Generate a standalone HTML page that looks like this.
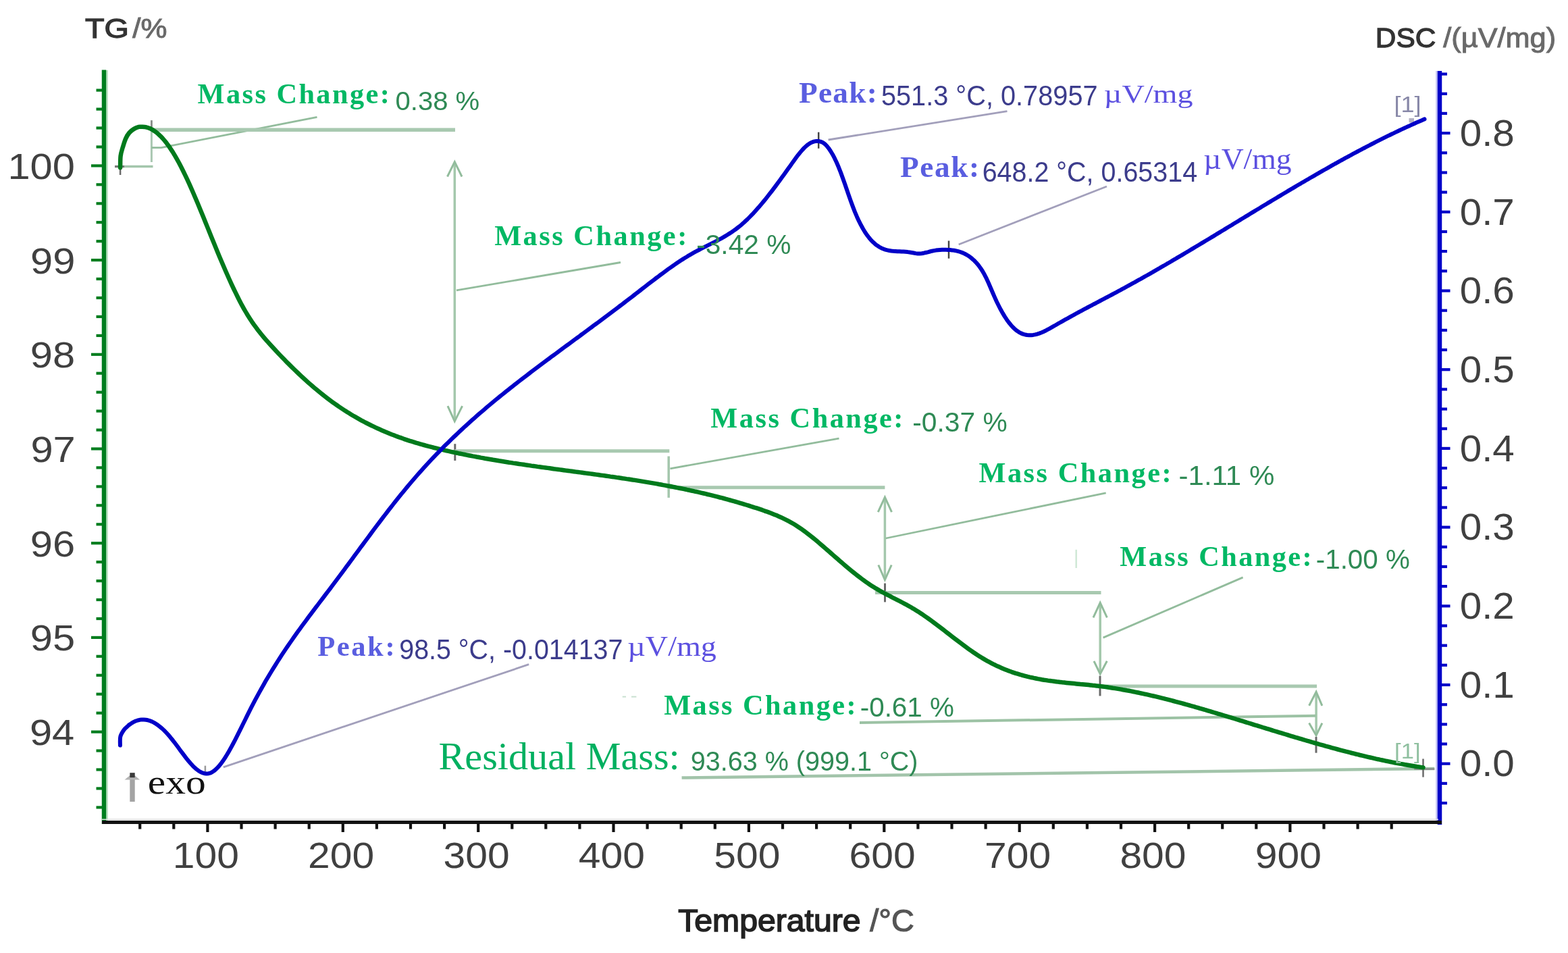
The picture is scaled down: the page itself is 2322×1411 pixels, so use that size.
<!DOCTYPE html>
<html><head><meta charset="utf-8"><title>TG / DSC</title>
<style>html,body{margin:0;padding:0;background:#fff;} svg{display:block;}</style></head>
<body><svg width="2322" height="1411" viewBox="0 0 2322 1411">
<rect width="2322" height="1411" fill="#fff"/>
<line x1="158.5" y1="104.0" x2="158.5" y2="1219.0" stroke="#b4e0bc" stroke-width="2.5" />
<line x1="154.0" y1="103.5" x2="154.0" y2="1220.0" stroke="#007d1e" stroke-width="6.5" />
<line x1="2127.5" y1="105.0" x2="2127.5" y2="1219.0" stroke="#c0c0f4" stroke-width="2.5" />
<line x1="2132.0" y1="105.0" x2="2132.0" y2="1221.0" stroke="#0000c8" stroke-width="6.5" />
<line x1="151.0" y1="1213.2" x2="2130.0" y2="1213.2" stroke="#d8d8d8" stroke-width="1.5" />
<line x1="151.0" y1="1217.6" x2="2135.0" y2="1217.6" stroke="#111" stroke-width="5" />
<line x1="142.5" y1="133.6" x2="154.0" y2="133.6" stroke="#007d1e" stroke-width="4.2" />
<line x1="142.5" y1="161.6" x2="154.0" y2="161.6" stroke="#007d1e" stroke-width="4.2" />
<line x1="142.5" y1="189.5" x2="154.0" y2="189.5" stroke="#007d1e" stroke-width="4.2" />
<line x1="142.5" y1="217.5" x2="154.0" y2="217.5" stroke="#007d1e" stroke-width="4.2" />
<line x1="135.0" y1="245.4" x2="154.0" y2="245.4" stroke="#007d1e" stroke-width="4.2" />
<line x1="142.5" y1="273.3" x2="154.0" y2="273.3" stroke="#007d1e" stroke-width="4.2" />
<line x1="142.5" y1="301.3" x2="154.0" y2="301.3" stroke="#007d1e" stroke-width="4.2" />
<line x1="142.5" y1="329.2" x2="154.0" y2="329.2" stroke="#007d1e" stroke-width="4.2" />
<line x1="142.5" y1="357.2" x2="154.0" y2="357.2" stroke="#007d1e" stroke-width="4.2" />
<line x1="135.0" y1="385.1" x2="154.0" y2="385.1" stroke="#007d1e" stroke-width="4.2" />
<line x1="142.5" y1="413.0" x2="154.0" y2="413.0" stroke="#007d1e" stroke-width="4.2" />
<line x1="142.5" y1="441.0" x2="154.0" y2="441.0" stroke="#007d1e" stroke-width="4.2" />
<line x1="142.5" y1="468.9" x2="154.0" y2="468.9" stroke="#007d1e" stroke-width="4.2" />
<line x1="142.5" y1="496.9" x2="154.0" y2="496.9" stroke="#007d1e" stroke-width="4.2" />
<line x1="135.0" y1="524.8" x2="154.0" y2="524.8" stroke="#007d1e" stroke-width="4.2" />
<line x1="142.5" y1="552.7" x2="154.0" y2="552.7" stroke="#007d1e" stroke-width="4.2" />
<line x1="142.5" y1="580.7" x2="154.0" y2="580.7" stroke="#007d1e" stroke-width="4.2" />
<line x1="142.5" y1="608.6" x2="154.0" y2="608.6" stroke="#007d1e" stroke-width="4.2" />
<line x1="142.5" y1="636.6" x2="154.0" y2="636.6" stroke="#007d1e" stroke-width="4.2" />
<line x1="135.0" y1="664.5" x2="154.0" y2="664.5" stroke="#007d1e" stroke-width="4.2" />
<line x1="142.5" y1="692.4" x2="154.0" y2="692.4" stroke="#007d1e" stroke-width="4.2" />
<line x1="142.5" y1="720.4" x2="154.0" y2="720.4" stroke="#007d1e" stroke-width="4.2" />
<line x1="142.5" y1="748.3" x2="154.0" y2="748.3" stroke="#007d1e" stroke-width="4.2" />
<line x1="142.5" y1="776.3" x2="154.0" y2="776.3" stroke="#007d1e" stroke-width="4.2" />
<line x1="135.0" y1="804.2" x2="154.0" y2="804.2" stroke="#007d1e" stroke-width="4.2" />
<line x1="142.5" y1="832.1" x2="154.0" y2="832.1" stroke="#007d1e" stroke-width="4.2" />
<line x1="142.5" y1="860.1" x2="154.0" y2="860.1" stroke="#007d1e" stroke-width="4.2" />
<line x1="142.5" y1="888.0" x2="154.0" y2="888.0" stroke="#007d1e" stroke-width="4.2" />
<line x1="142.5" y1="916.0" x2="154.0" y2="916.0" stroke="#007d1e" stroke-width="4.2" />
<line x1="135.0" y1="943.9" x2="154.0" y2="943.9" stroke="#007d1e" stroke-width="4.2" />
<line x1="142.5" y1="971.8" x2="154.0" y2="971.8" stroke="#007d1e" stroke-width="4.2" />
<line x1="142.5" y1="999.8" x2="154.0" y2="999.8" stroke="#007d1e" stroke-width="4.2" />
<line x1="142.5" y1="1027.7" x2="154.0" y2="1027.7" stroke="#007d1e" stroke-width="4.2" />
<line x1="142.5" y1="1055.7" x2="154.0" y2="1055.7" stroke="#007d1e" stroke-width="4.2" />
<line x1="135.0" y1="1083.6" x2="154.0" y2="1083.6" stroke="#007d1e" stroke-width="4.2" />
<line x1="142.5" y1="1111.5" x2="154.0" y2="1111.5" stroke="#007d1e" stroke-width="4.2" />
<line x1="142.5" y1="1139.5" x2="154.0" y2="1139.5" stroke="#007d1e" stroke-width="4.2" />
<line x1="142.5" y1="1167.4" x2="154.0" y2="1167.4" stroke="#007d1e" stroke-width="4.2" />
<line x1="142.5" y1="1195.4" x2="154.0" y2="1195.4" stroke="#007d1e" stroke-width="4.2" />
<line x1="2132.0" y1="1189.0" x2="2143.0" y2="1189.0" stroke="#0000c8" stroke-width="4.2" />
<line x1="2132.0" y1="1159.9" x2="2143.0" y2="1159.9" stroke="#0000c8" stroke-width="4.2" />
<line x1="2132.0" y1="1130.7" x2="2147.5" y2="1130.7" stroke="#0000c8" stroke-width="4.2" />
<line x1="2132.0" y1="1101.5" x2="2143.0" y2="1101.5" stroke="#0000c8" stroke-width="4.2" />
<line x1="2132.0" y1="1072.4" x2="2143.0" y2="1072.4" stroke="#0000c8" stroke-width="4.2" />
<line x1="2132.0" y1="1043.2" x2="2143.0" y2="1043.2" stroke="#0000c8" stroke-width="4.2" />
<line x1="2132.0" y1="1014.0" x2="2147.5" y2="1014.0" stroke="#0000c8" stroke-width="4.2" />
<line x1="2132.0" y1="984.8" x2="2143.0" y2="984.8" stroke="#0000c8" stroke-width="4.2" />
<line x1="2132.0" y1="955.7" x2="2143.0" y2="955.7" stroke="#0000c8" stroke-width="4.2" />
<line x1="2132.0" y1="926.5" x2="2143.0" y2="926.5" stroke="#0000c8" stroke-width="4.2" />
<line x1="2132.0" y1="897.3" x2="2147.5" y2="897.3" stroke="#0000c8" stroke-width="4.2" />
<line x1="2132.0" y1="868.1" x2="2143.0" y2="868.1" stroke="#0000c8" stroke-width="4.2" />
<line x1="2132.0" y1="839.0" x2="2143.0" y2="839.0" stroke="#0000c8" stroke-width="4.2" />
<line x1="2132.0" y1="809.8" x2="2143.0" y2="809.8" stroke="#0000c8" stroke-width="4.2" />
<line x1="2132.0" y1="780.6" x2="2147.5" y2="780.6" stroke="#0000c8" stroke-width="4.2" />
<line x1="2132.0" y1="751.4" x2="2143.0" y2="751.4" stroke="#0000c8" stroke-width="4.2" />
<line x1="2132.0" y1="722.2" x2="2143.0" y2="722.2" stroke="#0000c8" stroke-width="4.2" />
<line x1="2132.0" y1="693.1" x2="2143.0" y2="693.1" stroke="#0000c8" stroke-width="4.2" />
<line x1="2132.0" y1="663.9" x2="2147.5" y2="663.9" stroke="#0000c8" stroke-width="4.2" />
<line x1="2132.0" y1="634.7" x2="2143.0" y2="634.7" stroke="#0000c8" stroke-width="4.2" />
<line x1="2132.0" y1="605.6" x2="2143.0" y2="605.6" stroke="#0000c8" stroke-width="4.2" />
<line x1="2132.0" y1="576.4" x2="2143.0" y2="576.4" stroke="#0000c8" stroke-width="4.2" />
<line x1="2132.0" y1="547.2" x2="2147.5" y2="547.2" stroke="#0000c8" stroke-width="4.2" />
<line x1="2132.0" y1="518.0" x2="2143.0" y2="518.0" stroke="#0000c8" stroke-width="4.2" />
<line x1="2132.0" y1="488.9" x2="2143.0" y2="488.9" stroke="#0000c8" stroke-width="4.2" />
<line x1="2132.0" y1="459.7" x2="2143.0" y2="459.7" stroke="#0000c8" stroke-width="4.2" />
<line x1="2132.0" y1="430.5" x2="2147.5" y2="430.5" stroke="#0000c8" stroke-width="4.2" />
<line x1="2132.0" y1="401.3" x2="2143.0" y2="401.3" stroke="#0000c8" stroke-width="4.2" />
<line x1="2132.0" y1="372.1" x2="2143.0" y2="372.1" stroke="#0000c8" stroke-width="4.2" />
<line x1="2132.0" y1="343.0" x2="2143.0" y2="343.0" stroke="#0000c8" stroke-width="4.2" />
<line x1="2132.0" y1="313.8" x2="2147.5" y2="313.8" stroke="#0000c8" stroke-width="4.2" />
<line x1="2132.0" y1="284.6" x2="2143.0" y2="284.6" stroke="#0000c8" stroke-width="4.2" />
<line x1="2132.0" y1="255.5" x2="2143.0" y2="255.5" stroke="#0000c8" stroke-width="4.2" />
<line x1="2132.0" y1="226.3" x2="2143.0" y2="226.3" stroke="#0000c8" stroke-width="4.2" />
<line x1="2132.0" y1="197.1" x2="2147.5" y2="197.1" stroke="#0000c8" stroke-width="4.2" />
<line x1="2132.0" y1="167.9" x2="2143.0" y2="167.9" stroke="#0000c8" stroke-width="4.2" />
<line x1="2132.0" y1="138.8" x2="2143.0" y2="138.8" stroke="#0000c8" stroke-width="4.2" />
<line x1="2132.0" y1="109.6" x2="2143.0" y2="109.6" stroke="#0000c8" stroke-width="4.2" />
<line x1="207.2" y1="1217.0" x2="207.2" y2="1227.5" stroke="#111" stroke-width="4.2" />
<line x1="257.3" y1="1217.0" x2="257.3" y2="1227.5" stroke="#111" stroke-width="4.2" />
<line x1="307.4" y1="1217.0" x2="307.4" y2="1232.0" stroke="#111" stroke-width="4.2" />
<line x1="357.5" y1="1217.0" x2="357.5" y2="1227.5" stroke="#111" stroke-width="4.2" />
<line x1="407.6" y1="1217.0" x2="407.6" y2="1227.5" stroke="#111" stroke-width="4.2" />
<line x1="457.7" y1="1217.0" x2="457.7" y2="1227.5" stroke="#111" stroke-width="4.2" />
<line x1="507.8" y1="1217.0" x2="507.8" y2="1232.0" stroke="#111" stroke-width="4.2" />
<line x1="557.9" y1="1217.0" x2="557.9" y2="1227.5" stroke="#111" stroke-width="4.2" />
<line x1="608.0" y1="1217.0" x2="608.0" y2="1227.5" stroke="#111" stroke-width="4.2" />
<line x1="658.1" y1="1217.0" x2="658.1" y2="1227.5" stroke="#111" stroke-width="4.2" />
<line x1="708.2" y1="1217.0" x2="708.2" y2="1232.0" stroke="#111" stroke-width="4.2" />
<line x1="758.3" y1="1217.0" x2="758.3" y2="1227.5" stroke="#111" stroke-width="4.2" />
<line x1="808.3" y1="1217.0" x2="808.3" y2="1227.5" stroke="#111" stroke-width="4.2" />
<line x1="858.4" y1="1217.0" x2="858.4" y2="1227.5" stroke="#111" stroke-width="4.2" />
<line x1="908.5" y1="1217.0" x2="908.5" y2="1232.0" stroke="#111" stroke-width="4.2" />
<line x1="958.6" y1="1217.0" x2="958.6" y2="1227.5" stroke="#111" stroke-width="4.2" />
<line x1="1008.7" y1="1217.0" x2="1008.7" y2="1227.5" stroke="#111" stroke-width="4.2" />
<line x1="1058.8" y1="1217.0" x2="1058.8" y2="1227.5" stroke="#111" stroke-width="4.2" />
<line x1="1108.9" y1="1217.0" x2="1108.9" y2="1232.0" stroke="#111" stroke-width="4.2" />
<line x1="1159.0" y1="1217.0" x2="1159.0" y2="1227.5" stroke="#111" stroke-width="4.2" />
<line x1="1209.1" y1="1217.0" x2="1209.1" y2="1227.5" stroke="#111" stroke-width="4.2" />
<line x1="1259.2" y1="1217.0" x2="1259.2" y2="1227.5" stroke="#111" stroke-width="4.2" />
<line x1="1309.3" y1="1217.0" x2="1309.3" y2="1232.0" stroke="#111" stroke-width="4.2" />
<line x1="1359.4" y1="1217.0" x2="1359.4" y2="1227.5" stroke="#111" stroke-width="4.2" />
<line x1="1409.5" y1="1217.0" x2="1409.5" y2="1227.5" stroke="#111" stroke-width="4.2" />
<line x1="1459.6" y1="1217.0" x2="1459.6" y2="1227.5" stroke="#111" stroke-width="4.2" />
<line x1="1509.7" y1="1217.0" x2="1509.7" y2="1232.0" stroke="#111" stroke-width="4.2" />
<line x1="1559.8" y1="1217.0" x2="1559.8" y2="1227.5" stroke="#111" stroke-width="4.2" />
<line x1="1609.9" y1="1217.0" x2="1609.9" y2="1227.5" stroke="#111" stroke-width="4.2" />
<line x1="1660.0" y1="1217.0" x2="1660.0" y2="1227.5" stroke="#111" stroke-width="4.2" />
<line x1="1710.1" y1="1217.0" x2="1710.1" y2="1232.0" stroke="#111" stroke-width="4.2" />
<line x1="1760.2" y1="1217.0" x2="1760.2" y2="1227.5" stroke="#111" stroke-width="4.2" />
<line x1="1810.2" y1="1217.0" x2="1810.2" y2="1227.5" stroke="#111" stroke-width="4.2" />
<line x1="1860.3" y1="1217.0" x2="1860.3" y2="1227.5" stroke="#111" stroke-width="4.2" />
<line x1="1910.4" y1="1217.0" x2="1910.4" y2="1232.0" stroke="#111" stroke-width="4.2" />
<line x1="1960.5" y1="1217.0" x2="1960.5" y2="1227.5" stroke="#111" stroke-width="4.2" />
<line x1="2010.6" y1="1217.0" x2="2010.6" y2="1227.5" stroke="#111" stroke-width="4.2" />
<line x1="2060.7" y1="1217.0" x2="2060.7" y2="1227.5" stroke="#111" stroke-width="4.2" />
<text x="43.93" y="1103.05" font-family='"Liberation Sans", Arial, sans-serif' font-weight="normal" font-size="53.29" textLength="66.30" lengthAdjust="spacingAndGlyphs" fill="#404040">94</text>
<text x="44.82" y="963.35" font-family='"Liberation Sans", Arial, sans-serif' font-weight="normal" font-size="53.29" textLength="66.30" lengthAdjust="spacingAndGlyphs" fill="#404040">95</text>
<text x="44.82" y="823.65" font-family='"Liberation Sans", Arial, sans-serif' font-weight="normal" font-size="53.29" textLength="66.30" lengthAdjust="spacingAndGlyphs" fill="#404040">96</text>
<text x="45.42" y="683.95" font-family='"Liberation Sans", Arial, sans-serif' font-weight="normal" font-size="53.29" textLength="66.30" lengthAdjust="spacingAndGlyphs" fill="#404040">97</text>
<text x="44.82" y="544.25" font-family='"Liberation Sans", Arial, sans-serif' font-weight="normal" font-size="53.29" textLength="66.30" lengthAdjust="spacingAndGlyphs" fill="#404040">98</text>
<text x="45.12" y="404.55" font-family='"Liberation Sans", Arial, sans-serif' font-weight="normal" font-size="53.29" textLength="66.30" lengthAdjust="spacingAndGlyphs" fill="#404040">99</text>
<text x="11.44" y="264.85" font-family='"Liberation Sans", Arial, sans-serif' font-weight="normal" font-size="53.29" textLength="99.46" lengthAdjust="spacingAndGlyphs" fill="#404040">100</text>
<text x="2161.66" y="1149.40" font-family='"Liberation Sans", Arial, sans-serif' font-weight="normal" font-size="55.71" textLength="81.18" lengthAdjust="spacingAndGlyphs" fill="#404040">0.0</text>
<text x="2161.66" y="1032.70" font-family='"Liberation Sans", Arial, sans-serif' font-weight="normal" font-size="55.71" textLength="81.18" lengthAdjust="spacingAndGlyphs" fill="#404040">0.1</text>
<text x="2161.66" y="916.00" font-family='"Liberation Sans", Arial, sans-serif' font-weight="normal" font-size="55.71" textLength="81.18" lengthAdjust="spacingAndGlyphs" fill="#404040">0.2</text>
<text x="2161.66" y="799.30" font-family='"Liberation Sans", Arial, sans-serif' font-weight="normal" font-size="55.71" textLength="81.18" lengthAdjust="spacingAndGlyphs" fill="#404040">0.3</text>
<text x="2161.66" y="682.60" font-family='"Liberation Sans", Arial, sans-serif' font-weight="normal" font-size="55.71" textLength="81.18" lengthAdjust="spacingAndGlyphs" fill="#404040">0.4</text>
<text x="2161.66" y="565.90" font-family='"Liberation Sans", Arial, sans-serif' font-weight="normal" font-size="55.71" textLength="81.18" lengthAdjust="spacingAndGlyphs" fill="#404040">0.5</text>
<text x="2161.66" y="449.20" font-family='"Liberation Sans", Arial, sans-serif' font-weight="normal" font-size="55.71" textLength="81.18" lengthAdjust="spacingAndGlyphs" fill="#404040">0.6</text>
<text x="2161.66" y="332.50" font-family='"Liberation Sans", Arial, sans-serif' font-weight="normal" font-size="55.71" textLength="81.18" lengthAdjust="spacingAndGlyphs" fill="#404040">0.7</text>
<text x="2161.66" y="215.80" font-family='"Liberation Sans", Arial, sans-serif' font-weight="normal" font-size="55.71" textLength="81.18" lengthAdjust="spacingAndGlyphs" fill="#404040">0.8</text>
<text x="255.74" y="1285.20" font-family='"Liberation Sans", Arial, sans-serif' font-weight="normal" font-size="54.29" textLength="98.12" lengthAdjust="spacingAndGlyphs" fill="#404040">100</text>
<text x="456.12" y="1285.20" font-family='"Liberation Sans", Arial, sans-serif' font-weight="normal" font-size="54.29" textLength="98.12" lengthAdjust="spacingAndGlyphs" fill="#404040">200</text>
<text x="656.50" y="1285.20" font-family='"Liberation Sans", Arial, sans-serif' font-weight="normal" font-size="54.29" textLength="98.12" lengthAdjust="spacingAndGlyphs" fill="#404040">300</text>
<text x="856.88" y="1285.20" font-family='"Liberation Sans", Arial, sans-serif' font-weight="normal" font-size="54.29" textLength="98.12" lengthAdjust="spacingAndGlyphs" fill="#404040">400</text>
<text x="1057.26" y="1285.20" font-family='"Liberation Sans", Arial, sans-serif' font-weight="normal" font-size="54.29" textLength="98.12" lengthAdjust="spacingAndGlyphs" fill="#404040">500</text>
<text x="1257.64" y="1285.20" font-family='"Liberation Sans", Arial, sans-serif' font-weight="normal" font-size="54.29" textLength="98.12" lengthAdjust="spacingAndGlyphs" fill="#404040">600</text>
<text x="1458.02" y="1285.20" font-family='"Liberation Sans", Arial, sans-serif' font-weight="normal" font-size="54.29" textLength="98.12" lengthAdjust="spacingAndGlyphs" fill="#404040">700</text>
<text x="1658.40" y="1285.20" font-family='"Liberation Sans", Arial, sans-serif' font-weight="normal" font-size="54.29" textLength="98.12" lengthAdjust="spacingAndGlyphs" fill="#404040">800</text>
<text x="1858.78" y="1285.20" font-family='"Liberation Sans", Arial, sans-serif' font-weight="normal" font-size="54.29" textLength="98.12" lengthAdjust="spacingAndGlyphs" fill="#404040">900</text>
<text x="126.07" y="56.20" font-family='"Liberation Sans", Arial, sans-serif' font-weight="normal" font-size="40.14" textLength="64.88" lengthAdjust="spacingAndGlyphs" fill="#333" stroke="#333" stroke-width="1.3">TG</text>
<text x="196.30" y="56.20" font-family='"Liberation Sans", Arial, sans-serif' font-weight="normal" font-size="40.14" textLength="51.10" lengthAdjust="spacingAndGlyphs" fill="#6a6a6a" stroke="#6a6a6a" stroke-width="1.0">/%</text>
<text x="2036.81" y="70.40" font-family='"Liberation Sans", Arial, sans-serif' font-weight="normal" font-size="41.01" textLength="89.43" lengthAdjust="spacingAndGlyphs" fill="#333" stroke="#333" stroke-width="1.3">DSC</text>
<text x="2137.30" y="70.40" font-family='"Liberation Sans", Arial, sans-serif' font-weight="normal" font-size="41.01" textLength="166.78" lengthAdjust="spacingAndGlyphs" fill="#6a6a6a" stroke="#6a6a6a" stroke-width="1.0">/(µV/mg)</text>
<text x="1004.24" y="1378.50" font-family='"Liberation Sans", Arial, sans-serif' font-weight="normal" font-size="46.38" textLength="270.34" lengthAdjust="spacingAndGlyphs" fill="#222" stroke="#222" stroke-width="1.6">Temperature</text>
<text x="1288.20" y="1378.50" font-family='"Liberation Sans", Arial, sans-serif' font-weight="normal" font-size="46.38" textLength="65.53" lengthAdjust="spacingAndGlyphs" fill="#555" stroke="#555" stroke-width="1.2">/°C</text>
<line x1="170.0" y1="246.6" x2="226.5" y2="246.6" stroke="#a4c6ac" stroke-width="3.5" />
<line x1="170.0" y1="246.6" x2="184.0" y2="246.6" stroke="#777" stroke-width="3" />
<line x1="178.1" y1="238.5" x2="178.1" y2="259.0" stroke="#6a6a6a" stroke-width="2.5" />
<line x1="224.4" y1="178.2" x2="224.4" y2="240.0" stroke="#aac8b2" stroke-width="3" />
<line x1="224.4" y1="178.2" x2="224.4" y2="190.0" stroke="#888" stroke-width="2.5" />
<polyline points="224.4,218.6 238.9,218.6 469.5,173.3" fill="none" stroke="#92bc9c" stroke-width="2.8"/>
<line x1="226.0" y1="192.2" x2="674.0" y2="192.2" stroke="#a8c9b0" stroke-width="5.5" />
<line x1="673.3" y1="241.0" x2="673.3" y2="622.0" stroke="#a4c8ac" stroke-width="3.5" />
<polyline points="662.5,261.5 673.3,239.7 684,261.5" fill="none" stroke="#92bc9c" stroke-width="3"/>
<polyline points="663,601.2 673.3,623.8 684.6,601.2" fill="none" stroke="#92bc9c" stroke-width="3"/>
<line x1="675.9" y1="429.9" x2="919.0" y2="388.5" stroke="#92bc9c" stroke-width="2.8" />
<line x1="673.8" y1="657.2" x2="673.8" y2="682.0" stroke="#6a6a6a" stroke-width="3" />
<line x1="673.3" y1="667.8" x2="991.3" y2="667.8" stroke="#a8c9b0" stroke-width="5" />
<line x1="990.2" y1="675.5" x2="990.2" y2="736.9" stroke="#a4c6ac" stroke-width="3.5" />
<line x1="992.4" y1="693.8" x2="1242.5" y2="649.2" stroke="#92bc9c" stroke-width="2.8" />
<line x1="990.2" y1="721.8" x2="1310.4" y2="721.8" stroke="#a8c9b0" stroke-width="5" />
<line x1="1310.4" y1="738.0" x2="1310.4" y2="857.0" stroke="#a4c8ac" stroke-width="3.5" />
<polyline points="1300.3,758.2 1310.4,736.2 1320.5,758.2" fill="none" stroke="#92bc9c" stroke-width="3"/>
<polyline points="1300.8,836.5 1310.4,858.5 1320.2,836.5" fill="none" stroke="#92bc9c" stroke-width="3"/>
<line x1="1311.7" y1="797.0" x2="1637.7" y2="729.8" stroke="#92bc9c" stroke-width="2.8" />
<line x1="1310.5" y1="863.6" x2="1310.5" y2="891.4" stroke="#6a6a6a" stroke-width="3" />
<line x1="1296.0" y1="877.6" x2="1630.5" y2="877.6" stroke="#a8c9b0" stroke-width="5" />
<line x1="1629.2" y1="894.0" x2="1629.2" y2="997.0" stroke="#a4c8ac" stroke-width="3.5" />
<polyline points="1619,914.3 1629.2,892.4 1639.4,914.3" fill="none" stroke="#92bc9c" stroke-width="3"/>
<polyline points="1620,978.8 1629.2,998 1639.3,978.8" fill="none" stroke="#92bc9c" stroke-width="3"/>
<line x1="1633.6" y1="944.1" x2="1840.6" y2="854.9" stroke="#92bc9c" stroke-width="2.8" />
<line x1="1629.0" y1="1000.7" x2="1629.0" y2="1030.4" stroke="#6a6a6a" stroke-width="3" />
<line x1="1629.0" y1="1016.0" x2="1950.1" y2="1016.0" stroke="#a8c9b0" stroke-width="5" />
<line x1="1949.1" y1="1026.0" x2="1949.1" y2="1088.0" stroke="#a4c8ac" stroke-width="3.5" />
<polyline points="1938.6,1044.8 1949.1,1024.3 1957.9,1044.8" fill="none" stroke="#92bc9c" stroke-width="3"/>
<polyline points="1938.6,1070.6 1949.1,1088.9 1957.9,1070.6" fill="none" stroke="#92bc9c" stroke-width="3"/>
<line x1="1949.0" y1="1059.8" x2="1273.0" y2="1069.9" stroke="#9cc2a4" stroke-width="4" />
<line x1="1949.0" y1="1091.0" x2="1949.0" y2="1114.7" stroke="#6a6a6a" stroke-width="3" />
<line x1="1009.6" y1="1151.5" x2="2124.3" y2="1138.0" stroke="#a2c4aa" stroke-width="4.5" />
<line x1="2107.5" y1="1123.5" x2="2107.5" y2="1150.6" stroke="#6a6a6a" stroke-width="2.5" />
<line x1="2094.2" y1="1138.6" x2="2124.3" y2="1138.6" stroke="#8a8a8a" stroke-width="2.5" />
<rect x="2086.5" y="175" width="7.5" height="6.5" fill="#b4b2c4"/>
<line x1="1593.7" y1="813.8" x2="1593.7" y2="841.0" stroke="#cfe8d6" stroke-width="2.5" />
<line x1="921.7" y1="1031.6" x2="927.0" y2="1031.6" stroke="#c8e0d0" stroke-width="2" />
<line x1="935.0" y1="1031.6" x2="942.4" y2="1031.6" stroke="#c8e0d0" stroke-width="2" />
<line x1="330.8" y1="1135.8" x2="783.2" y2="983.7" stroke="#a29fbb" stroke-width="2.8" />
<line x1="303.9" y1="1133.7" x2="303.9" y2="1143.4" stroke="#999" stroke-width="2.5" />
<line x1="1226.6" y1="207.0" x2="1491.5" y2="164.7" stroke="#a29fbb" stroke-width="2.8" />
<line x1="1212.2" y1="195.7" x2="1212.2" y2="219.8" stroke="#444" stroke-width="2.5" />
<line x1="1419.7" y1="362.0" x2="1639.0" y2="276.0" stroke="#a29fbb" stroke-width="2.8" />
<line x1="1405.0" y1="356.5" x2="1405.0" y2="382.7" stroke="#444" stroke-width="2.5" />
<path d="M178.1,248.2 C178.2,245.3 178.0,236.0 178.6,231.0 C179.2,226.0 180.5,222.4 181.8,218.1 C183.1,213.8 184.6,208.7 186.2,205.1 C187.8,201.5 189.5,198.8 191.5,196.5 C193.5,194.2 195.7,192.5 198.0,191.1 C200.3,189.7 203.8,188.4 205.5,187.9 C207.2,187.4 207.6,187.8 208.0,187.8 L211.0,187.7 L214.0,187.9 L217.0,188.5 L220.0,189.4 L223.0,190.6 L226.0,192.2 L229.0,194.2 L232.0,196.4 L235.0,199.0 L238.0,201.8 L241.0,205.0 L244.0,208.5 L247.0,212.3 L250.0,216.4 L253.0,220.8 L256.0,225.4 L259.0,230.4 L262.0,235.6 L265.0,241.0 L268.0,246.7 L271.0,252.7 L274.0,258.9 L277.0,265.2 L280.0,271.7 L283.0,278.4 L286.0,285.3 L289.0,292.3 L292.0,299.3 L295.0,306.5 L298.0,313.8 L301.0,321.1 L304.0,328.5 L307.0,335.9 L310.0,343.3 L313.0,350.7 L316.0,358.0 L319.0,365.4 L322.0,372.7 L325.0,379.9 L328.0,387.0 L331.0,394.1 L334.0,401.0 L337.0,407.8 L340.0,414.5 L343.0,421.1 L346.0,427.5 L349.0,433.7 L352.0,439.8 L355.0,445.7 L358.0,451.4 L361.0,456.8 L364.0,462.0 L367.0,467.0 L370.0,471.7 L373.0,476.3 L376.0,480.6 L379.0,484.7 L382.0,488.7 L385.0,492.5 L388.0,496.2 L391.0,499.8 L394.0,503.3 L397.0,506.7 L400.0,510.0 L403.0,513.3 L406.0,516.5 L409.0,519.8 L412.0,522.9 L415.0,526.1 L418.0,529.2 L421.0,532.3 L424.0,535.4 L427.0,538.4 L430.0,541.4 L433.0,544.3 L436.0,547.3 L439.0,550.2 L442.0,553.0 L445.0,555.8 L448.0,558.6 L451.0,561.4 L454.0,564.1 L457.0,566.8 L460.0,569.4 L463.0,572.0 L466.0,574.6 L469.0,577.1 L472.0,579.6 L475.0,582.0 L478.0,584.4 L481.0,586.8 L484.0,589.1 L487.0,591.4 L490.0,593.6 L493.0,595.8 L496.0,597.9 L499.0,600.0 L502.0,602.1 L505.0,604.1 L508.0,606.1 L511.0,608.1 L514.0,610.0 L517.0,611.8 L520.0,613.7 L523.0,615.5 L526.0,617.2 L529.0,618.9 L532.0,620.6 L535.0,622.3 L538.0,623.9 L541.0,625.5 L544.0,627.0 L547.0,628.5 L550.0,630.0 L553.0,631.4 L556.0,632.9 L559.0,634.3 L562.0,635.6 L565.0,636.9 L568.0,638.2 L571.0,639.5 L574.0,640.7 L577.0,642.0 L580.0,643.2 L583.0,644.3 L586.0,645.5 L589.0,646.6 L592.0,647.7 L595.0,648.7 L598.0,649.8 L601.0,650.8 L604.0,651.8 L607.0,652.8 L610.0,653.7 L613.0,654.6 L616.0,655.6 L619.0,656.4 L622.0,657.3 L625.0,658.2 L628.0,659.0 L631.0,659.8 L634.0,660.7 L637.0,661.4 L640.0,662.2 L643.0,663.0 L646.0,663.7 L649.0,664.5 L652.0,665.2 L655.0,665.9 L658.0,666.6 L661.0,667.3 L664.0,667.9 L667.0,668.6 L670.0,669.3 L673.0,669.9 L676.0,670.5 L679.0,671.2 L682.0,671.8 L685.0,672.4 L688.0,673.0 L691.0,673.6 L694.0,674.2 L697.0,674.8 L700.0,675.4 L703.0,675.9 L706.0,676.5 L709.0,677.0 L712.0,677.6 L715.0,678.1 L718.0,678.7 L721.0,679.2 L724.0,679.7 L727.0,680.2 L730.0,680.8 L733.0,681.3 L736.0,681.8 L739.0,682.3 L742.0,682.7 L745.0,683.2 L748.0,683.7 L751.0,684.2 L754.0,684.7 L757.0,685.1 L760.0,685.6 L763.0,686.0 L766.0,686.5 L769.0,687.0 L772.0,687.4 L775.0,687.8 L778.0,688.3 L781.0,688.7 L784.0,689.1 L787.0,689.6 L790.0,690.0 L793.0,690.4 L796.0,690.9 L799.0,691.3 L802.0,691.7 L805.0,692.1 L808.0,692.5 L811.0,692.9 L814.0,693.3 L817.0,693.7 L820.0,694.2 L823.0,694.6 L826.0,695.0 L829.0,695.4 L832.0,695.8 L835.0,696.2 L838.0,696.6 L841.0,697.0 L844.0,697.4 L847.0,697.8 L850.0,698.2 L853.0,698.6 L856.0,699.0 L859.0,699.4 L862.0,699.8 L865.0,700.2 L868.0,700.6 L871.0,701.0 L874.0,701.4 L877.0,701.8 L880.0,702.2 L883.0,702.6 L886.0,703.0 L889.0,703.5 L892.0,703.9 L895.0,704.3 L898.0,704.7 L901.0,705.1 L904.0,705.6 L907.0,706.0 L910.0,706.4 L913.0,706.9 L916.0,707.3 L919.0,707.7 L922.0,708.2 L925.0,708.6 L928.0,709.1 L931.0,709.5 L934.0,710.0 L937.0,710.5 L940.0,710.9 L943.0,711.4 L946.0,711.9 L949.0,712.4 L952.0,712.9 L955.0,713.4 L958.0,713.9 L961.0,714.4 L964.0,714.9 L967.0,715.4 L970.0,715.9 L973.0,716.4 L976.0,717.0 L979.0,717.5 L982.0,718.1 L985.0,718.6 L988.0,719.2 L991.0,719.7 L994.0,720.3 L997.0,720.9 L1000.0,721.5 L1003.0,722.1 L1006.0,722.7 L1009.0,723.3 L1012.0,723.9 L1015.0,724.5 L1018.0,725.2 L1021.0,725.8 L1024.0,726.5 L1027.0,727.1 L1030.0,727.8 L1033.0,728.4 L1036.0,729.1 L1039.0,729.8 L1042.0,730.5 L1045.0,731.2 L1048.0,732.0 L1051.0,732.7 L1054.0,733.4 L1057.0,734.2 L1060.0,734.9 L1063.0,735.7 L1066.0,736.5 L1069.0,737.2 L1072.0,738.0 L1075.0,738.8 L1078.0,739.7 L1081.0,740.5 L1084.0,741.3 L1087.0,742.2 L1090.0,743.0 L1093.0,743.9 L1096.0,744.8 L1099.0,745.7 L1102.0,746.6 L1105.0,747.5 L1108.0,748.4 L1111.0,749.4 L1114.0,750.3 L1117.0,751.3 L1120.0,752.2 L1123.0,753.2 L1126.0,754.2 L1129.0,755.2 L1132.0,756.3 L1135.0,757.3 L1138.0,758.4 L1141.0,759.5 L1144.0,760.7 L1147.0,761.9 L1150.0,763.1 L1153.0,764.4 L1156.0,765.7 L1159.0,767.1 L1162.0,768.6 L1165.0,770.1 L1168.0,771.7 L1171.0,773.3 L1174.0,775.0 L1177.0,776.8 L1180.0,778.7 L1183.0,780.7 L1186.0,782.7 L1189.0,784.9 L1192.0,787.0 L1195.0,789.3 L1198.0,791.6 L1201.0,794.0 L1204.0,796.4 L1207.0,798.8 L1210.0,801.3 L1213.0,803.9 L1216.0,806.4 L1219.0,809.0 L1222.0,811.6 L1225.0,814.2 L1228.0,816.8 L1231.0,819.5 L1234.0,822.1 L1237.0,824.7 L1240.0,827.3 L1243.0,830.0 L1246.0,832.5 L1249.0,835.1 L1252.0,837.7 L1255.0,840.2 L1258.0,842.7 L1261.0,845.2 L1264.0,847.6 L1267.0,850.0 L1270.0,852.4 L1273.0,854.7 L1276.0,857.0 L1279.0,859.2 L1282.0,861.3 L1285.0,863.4 L1288.0,865.5 L1291.0,867.4 L1294.0,869.3 L1297.0,871.2 L1300.0,872.9 L1303.0,874.7 L1306.0,876.3 L1309.0,878.0 L1312.0,879.6 L1315.0,881.2 L1318.0,882.7 L1321.0,884.3 L1324.0,885.8 L1327.0,887.3 L1330.0,888.9 L1333.0,890.4 L1336.0,892.0 L1339.0,893.6 L1342.0,895.2 L1345.0,896.8 L1348.0,898.5 L1351.0,900.3 L1354.0,902.0 L1357.0,903.9 L1360.0,905.8 L1363.0,907.7 L1366.0,909.7 L1369.0,911.8 L1372.0,913.9 L1375.0,916.0 L1378.0,918.2 L1381.0,920.3 L1384.0,922.6 L1387.0,924.8 L1390.0,927.1 L1393.0,929.4 L1396.0,931.7 L1399.0,934.0 L1402.0,936.3 L1405.0,938.6 L1408.0,941.0 L1411.0,943.3 L1414.0,945.6 L1417.0,947.9 L1420.0,950.2 L1423.0,952.4 L1426.0,954.7 L1429.0,956.9 L1432.0,959.1 L1435.0,961.3 L1438.0,963.4 L1441.0,965.5 L1444.0,967.5 L1447.0,969.5 L1450.0,971.4 L1453.0,973.3 L1456.0,975.1 L1459.0,976.9 L1462.0,978.6 L1465.0,980.2 L1468.0,981.8 L1471.0,983.4 L1474.0,984.8 L1477.0,986.3 L1480.0,987.6 L1483.0,988.9 L1486.0,990.2 L1489.0,991.4 L1492.0,992.6 L1495.0,993.7 L1498.0,994.8 L1501.0,995.8 L1504.0,996.8 L1507.0,997.7 L1510.0,998.6 L1513.0,999.5 L1516.0,1000.3 L1519.0,1001.1 L1522.0,1001.9 L1525.0,1002.6 L1528.0,1003.2 L1531.0,1003.9 L1534.0,1004.5 L1537.0,1005.1 L1540.0,1005.6 L1543.0,1006.2 L1546.0,1006.7 L1549.0,1007.1 L1552.0,1007.6 L1555.0,1008.0 L1558.0,1008.4 L1561.0,1008.8 L1564.0,1009.2 L1567.0,1009.6 L1570.0,1009.9 L1573.0,1010.3 L1576.0,1010.6 L1579.0,1010.9 L1582.0,1011.2 L1585.0,1011.5 L1588.0,1011.8 L1591.0,1012.1 L1594.0,1012.4 L1597.0,1012.7 L1600.0,1013.0 L1603.0,1013.2 L1606.0,1013.5 L1609.0,1013.8 L1612.0,1014.1 L1615.0,1014.4 L1618.0,1014.8 L1621.0,1015.1 L1624.0,1015.4 L1627.0,1015.8 L1630.0,1016.1 L1633.0,1016.5 L1636.0,1016.9 L1639.0,1017.3 L1642.0,1017.8 L1645.0,1018.2 L1648.0,1018.7 L1651.0,1019.1 L1654.0,1019.6 L1657.0,1020.1 L1660.0,1020.6 L1663.0,1021.2 L1666.0,1021.7 L1669.0,1022.3 L1672.0,1022.8 L1675.0,1023.4 L1678.0,1024.0 L1681.0,1024.6 L1684.0,1025.2 L1687.0,1025.8 L1690.0,1026.5 L1693.0,1027.1 L1696.0,1027.8 L1699.0,1028.4 L1702.0,1029.1 L1705.0,1029.8 L1708.0,1030.5 L1711.0,1031.2 L1714.0,1031.9 L1717.0,1032.6 L1720.0,1033.4 L1723.0,1034.1 L1726.0,1034.9 L1729.0,1035.6 L1732.0,1036.4 L1735.0,1037.2 L1738.0,1038.0 L1741.0,1038.8 L1744.0,1039.6 L1747.0,1040.4 L1750.0,1041.2 L1753.0,1042.0 L1756.0,1042.8 L1759.0,1043.7 L1762.0,1044.5 L1765.0,1045.4 L1768.0,1046.2 L1771.0,1047.1 L1774.0,1047.9 L1777.0,1048.8 L1780.0,1049.7 L1783.0,1050.5 L1786.0,1051.4 L1789.0,1052.3 L1792.0,1053.2 L1795.0,1054.1 L1798.0,1055.0 L1801.0,1055.9 L1804.0,1056.8 L1807.0,1057.7 L1810.0,1058.6 L1813.0,1059.5 L1816.0,1060.4 L1819.0,1061.3 L1822.0,1062.2 L1825.0,1063.1 L1828.0,1064.0 L1831.0,1065.0 L1834.0,1065.9 L1837.0,1066.8 L1840.0,1067.7 L1843.0,1068.6 L1846.0,1069.6 L1849.0,1070.5 L1852.0,1071.4 L1855.0,1072.3 L1858.0,1073.3 L1861.0,1074.2 L1864.0,1075.1 L1867.0,1076.0 L1870.0,1077.0 L1873.0,1077.9 L1876.0,1078.8 L1879.0,1079.7 L1882.0,1080.6 L1885.0,1081.6 L1888.0,1082.5 L1891.0,1083.4 L1894.0,1084.3 L1897.0,1085.2 L1900.0,1086.1 L1903.0,1087.0 L1906.0,1087.9 L1909.0,1088.9 L1912.0,1089.8 L1915.0,1090.7 L1918.0,1091.6 L1921.0,1092.4 L1924.0,1093.3 L1927.0,1094.2 L1930.0,1095.1 L1933.0,1096.0 L1936.0,1096.9 L1939.0,1097.7 L1942.0,1098.6 L1945.0,1099.5 L1948.0,1100.3 L1951.0,1101.2 L1954.0,1102.1 L1957.0,1102.9 L1960.0,1103.7 L1963.0,1104.6 L1966.0,1105.4 L1969.0,1106.2 L1972.0,1107.1 L1975.0,1107.9 L1978.0,1108.7 L1981.0,1109.5 L1984.0,1110.3 L1987.0,1111.1 L1990.0,1111.9 L1993.0,1112.7 L1996.0,1113.4 L1999.0,1114.2 L2002.0,1115.0 L2005.0,1115.7 L2008.0,1116.5 L2011.0,1117.2 L2014.0,1118.0 L2017.0,1118.7 L2020.0,1119.4 L2023.0,1120.1 L2026.0,1120.8 L2029.0,1121.5 L2032.0,1122.2 L2035.0,1122.9 L2038.0,1123.6 L2041.0,1124.2 L2044.0,1124.9 L2047.0,1125.5 L2050.0,1126.1 L2053.0,1126.8 L2056.0,1127.4 L2059.0,1128.0 L2062.0,1128.6 L2065.0,1129.2 L2068.0,1129.8 L2071.0,1130.3 L2074.0,1130.9 L2077.0,1131.4 L2080.0,1132.0 L2083.0,1132.5 L2086.0,1133.0 L2089.0,1133.5 L2092.0,1134.0 L2095.0,1134.5 L2098.0,1135.0 L2101.0,1135.4 L2104.0,1135.9 L2107.0,1136.3 L2107.5,1136.4" fill="none" stroke="#007a1c" stroke-width="6.5" stroke-linejoin="round" stroke-linecap="round"/>
<path d="M177.9,1103.5 C178.0,1101.3 177.4,1094.4 178.3,1090.6 C179.2,1086.8 181.4,1083.6 183.3,1080.9 C185.2,1078.2 188.4,1075.9 189.8,1074.5 C191.2,1073.1 191.6,1073.0 192.0,1072.7 L195.0,1070.6 L198.0,1068.9 L201.0,1067.5 L204.0,1066.5 L207.0,1065.8 L210.0,1065.4 L213.0,1065.4 L216.0,1065.7 L219.0,1066.3 L222.0,1067.2 L225.0,1068.4 L228.0,1069.9 L231.0,1071.7 L234.0,1073.8 L237.0,1076.1 L240.0,1078.6 L243.0,1081.4 L246.0,1084.5 L249.0,1087.8 L252.0,1091.3 L255.0,1095.0 L258.0,1098.8 L261.0,1102.8 L264.0,1106.8 L267.0,1110.9 L270.0,1114.9 L273.0,1118.9 L276.0,1122.8 L279.0,1126.5 L282.0,1130.0 L285.0,1133.3 L288.0,1136.3 L291.0,1138.9 L294.0,1141.2 L297.0,1143.0 L300.0,1144.4 L303.0,1145.2 L306.0,1145.5 L309.0,1145.2 L312.0,1144.3 L315.0,1142.7 L318.0,1140.5 L321.0,1137.8 L324.0,1134.6 L327.0,1130.9 L330.0,1126.8 L333.0,1122.3 L336.0,1117.5 L339.0,1112.4 L342.0,1107.1 L345.0,1101.5 L348.0,1095.8 L351.0,1089.9 L354.0,1083.9 L357.0,1077.9 L360.0,1071.8 L363.0,1065.7 L366.0,1059.6 L369.0,1053.6 L372.0,1047.7 L375.0,1041.9 L378.0,1036.2 L381.0,1030.6 L384.0,1025.1 L387.0,1019.7 L390.0,1014.4 L393.0,1009.1 L396.0,1004.0 L399.0,998.9 L402.0,994.0 L405.0,989.1 L408.0,984.3 L411.0,979.5 L414.0,974.8 L417.0,970.2 L420.0,965.7 L423.0,961.2 L426.0,956.8 L429.0,952.4 L432.0,948.1 L435.0,943.8 L438.0,939.5 L441.0,935.3 L444.0,931.2 L447.0,927.1 L450.0,923.0 L453.0,918.9 L456.0,914.9 L459.0,910.8 L462.0,906.9 L465.0,902.9 L468.0,898.9 L471.0,895.0 L474.0,891.0 L477.0,887.1 L480.0,883.1 L483.0,879.2 L486.0,875.2 L489.0,871.3 L492.0,867.3 L495.0,863.3 L498.0,859.3 L501.0,855.3 L504.0,851.3 L507.0,847.2 L510.0,843.2 L513.0,839.1 L516.0,835.1 L519.0,831.0 L522.0,826.9 L525.0,822.8 L528.0,818.8 L531.0,814.7 L534.0,810.6 L537.0,806.6 L540.0,802.5 L543.0,798.5 L546.0,794.4 L549.0,790.4 L552.0,786.3 L555.0,782.3 L558.0,778.3 L561.0,774.4 L564.0,770.4 L567.0,766.4 L570.0,762.5 L573.0,758.6 L576.0,754.7 L579.0,750.8 L582.0,747.0 L585.0,743.2 L588.0,739.4 L591.0,735.7 L594.0,731.9 L597.0,728.3 L600.0,724.6 L603.0,721.0 L606.0,717.4 L609.0,713.9 L612.0,710.4 L615.0,706.9 L618.0,703.4 L621.0,700.0 L624.0,696.7 L627.0,693.3 L630.0,690.0 L633.0,686.8 L636.0,683.5 L639.0,680.3 L642.0,677.2 L645.0,674.0 L648.0,670.9 L651.0,667.8 L654.0,664.8 L657.0,661.7 L660.0,658.7 L663.0,655.8 L666.0,652.8 L669.0,649.9 L672.0,647.0 L675.0,644.2 L678.0,641.3 L681.0,638.5 L684.0,635.7 L687.0,632.9 L690.0,630.2 L693.0,627.5 L696.0,624.8 L699.0,622.1 L702.0,619.4 L705.0,616.8 L708.0,614.1 L711.0,611.5 L714.0,609.0 L717.0,606.4 L720.0,603.8 L723.0,601.3 L726.0,598.8 L729.0,596.3 L732.0,593.8 L735.0,591.3 L738.0,588.9 L741.0,586.4 L744.0,584.0 L747.0,581.6 L750.0,579.2 L753.0,576.8 L756.0,574.4 L759.0,572.1 L762.0,569.7 L765.0,567.4 L768.0,565.0 L771.0,562.7 L774.0,560.4 L777.0,558.1 L780.0,555.8 L783.0,553.5 L786.0,551.2 L789.0,548.9 L792.0,546.7 L795.0,544.4 L798.0,542.2 L801.0,539.9 L804.0,537.7 L807.0,535.4 L810.0,533.2 L813.0,531.0 L816.0,528.7 L819.0,526.5 L822.0,524.3 L825.0,522.1 L828.0,519.9 L831.0,517.6 L834.0,515.4 L837.0,513.2 L840.0,511.0 L843.0,508.8 L846.0,506.6 L849.0,504.4 L852.0,502.2 L855.0,500.0 L858.0,497.8 L861.0,495.5 L864.0,493.3 L867.0,491.1 L870.0,488.9 L873.0,486.7 L876.0,484.5 L879.0,482.2 L882.0,480.0 L885.0,477.8 L888.0,475.6 L891.0,473.3 L894.0,471.1 L897.0,468.8 L900.0,466.6 L903.0,464.3 L906.0,462.1 L909.0,459.8 L912.0,457.6 L915.0,455.3 L918.0,453.0 L921.0,450.8 L924.0,448.5 L927.0,446.2 L930.0,443.9 L933.0,441.6 L936.0,439.3 L939.0,437.0 L942.0,434.7 L945.0,432.3 L948.0,430.0 L951.0,427.7 L954.0,425.4 L957.0,423.0 L960.0,420.7 L963.0,418.4 L966.0,416.1 L969.0,413.8 L972.0,411.5 L975.0,409.3 L978.0,407.0 L981.0,404.8 L984.0,402.6 L987.0,400.4 L990.0,398.2 L993.0,396.1 L996.0,394.0 L999.0,391.9 L1002.0,389.8 L1005.0,387.8 L1008.0,385.8 L1011.0,383.9 L1014.0,382.0 L1017.0,380.2 L1020.0,378.3 L1023.0,376.6 L1026.0,374.9 L1029.0,373.2 L1032.0,371.6 L1035.0,370.0 L1038.0,368.4 L1041.0,366.9 L1044.0,365.4 L1047.0,363.9 L1050.0,362.4 L1053.0,360.9 L1056.0,359.4 L1059.0,357.9 L1062.0,356.3 L1065.0,354.7 L1068.0,353.1 L1071.0,351.4 L1074.0,349.6 L1077.0,347.8 L1080.0,345.9 L1083.0,344.0 L1086.0,341.9 L1089.0,339.8 L1092.0,337.5 L1095.0,335.2 L1098.0,332.7 L1101.0,330.1 L1104.0,327.3 L1107.0,324.5 L1110.0,321.5 L1113.0,318.4 L1116.0,315.3 L1119.0,312.0 L1122.0,308.6 L1125.0,305.2 L1128.0,301.6 L1131.0,298.0 L1134.0,294.3 L1137.0,290.5 L1140.0,286.7 L1143.0,282.8 L1146.0,278.9 L1149.0,274.9 L1152.0,270.8 L1155.0,266.7 L1158.0,262.6 L1161.0,258.5 L1164.0,254.3 L1167.0,250.1 L1170.0,245.9 L1173.0,241.6 L1176.0,237.4 L1179.0,233.3 L1182.0,229.3 L1185.0,225.6 L1188.0,222.1 L1191.0,218.9 L1194.0,216.1 L1197.0,213.7 L1200.0,211.8 L1203.0,210.4 L1206.0,209.4 L1209.0,209.0 L1212.0,209.0 L1215.0,209.6 L1218.0,210.8 L1221.0,212.8 L1224.0,215.6 L1227.0,219.3 L1230.0,223.7 L1233.0,228.7 L1236.0,234.4 L1239.0,240.8 L1242.0,247.8 L1245.0,255.4 L1248.0,263.6 L1251.0,272.1 L1254.0,280.8 L1257.0,289.4 L1260.0,297.9 L1263.0,306.1 L1266.0,313.8 L1269.0,320.9 L1272.0,327.4 L1275.0,333.3 L1278.0,338.7 L1281.0,343.7 L1284.0,348.1 L1287.0,352.0 L1290.0,355.6 L1293.0,358.6 L1296.0,361.3 L1299.0,363.6 L1302.0,365.6 L1305.0,367.2 L1308.0,368.5 L1311.0,369.6 L1314.0,370.4 L1317.0,371.0 L1320.0,371.5 L1323.0,371.8 L1326.0,372.0 L1329.0,372.2 L1332.0,372.3 L1335.0,372.5 L1338.0,372.6 L1341.0,372.8 L1344.0,373.1 L1347.0,373.5 L1350.0,374.0 L1353.0,374.5 L1356.0,375.1 L1359.0,375.5 L1362.0,375.5 L1365.0,375.2 L1368.0,374.7 L1371.0,374.0 L1374.0,373.3 L1377.0,372.5 L1380.0,371.7 L1383.0,371.1 L1386.0,370.6 L1389.0,370.3 L1392.0,370.0 L1395.0,369.8 L1398.0,369.8 L1401.0,369.8 L1404.0,369.9 L1407.0,370.1 L1410.0,370.4 L1413.0,370.8 L1416.0,371.4 L1419.0,372.1 L1422.0,373.0 L1425.0,374.1 L1428.0,375.4 L1431.0,377.0 L1434.0,378.8 L1437.0,380.9 L1440.0,383.4 L1443.0,386.1 L1446.0,389.3 L1449.0,392.8 L1452.0,396.9 L1455.0,401.5 L1458.0,406.8 L1461.0,412.7 L1464.0,419.3 L1467.0,426.2 L1470.0,433.2 L1473.0,440.1 L1476.0,446.7 L1479.0,452.8 L1482.0,458.6 L1485.0,463.9 L1488.0,468.9 L1491.0,473.4 L1494.0,477.5 L1497.0,481.2 L1500.0,484.5 L1503.0,487.4 L1506.0,489.8 L1509.0,491.8 L1512.0,493.4 L1515.0,494.6 L1518.0,495.5 L1521.0,496.0 L1524.0,496.3 L1527.0,496.2 L1530.0,495.9 L1533.0,495.4 L1536.0,494.6 L1539.0,493.6 L1542.0,492.5 L1545.0,491.2 L1548.0,489.8 L1551.0,488.2 L1554.0,486.6 L1557.0,484.9 L1560.0,483.2 L1563.0,481.5 L1566.0,479.7 L1569.0,478.0 L1572.0,476.3 L1575.0,474.6 L1578.0,472.9 L1581.0,471.3 L1584.0,469.6 L1587.0,468.0 L1590.0,466.3 L1593.0,464.7 L1596.0,463.0 L1599.0,461.4 L1602.0,459.8 L1605.0,458.2 L1608.0,456.6 L1611.0,455.0 L1614.0,453.4 L1617.0,451.8 L1620.0,450.2 L1623.0,448.7 L1626.0,447.1 L1629.0,445.5 L1632.0,443.9 L1635.0,442.3 L1638.0,440.7 L1641.0,439.2 L1644.0,437.6 L1647.0,436.0 L1650.0,434.4 L1653.0,432.8 L1656.0,431.2 L1659.0,429.6 L1662.0,427.9 L1665.0,426.3 L1668.0,424.7 L1671.0,423.0 L1674.0,421.4 L1677.0,419.7 L1680.0,418.1 L1683.0,416.4 L1686.0,414.7 L1689.0,413.1 L1692.0,411.4 L1695.0,409.7 L1698.0,408.0 L1701.0,406.3 L1704.0,404.6 L1707.0,402.9 L1710.0,401.1 L1713.0,399.4 L1716.0,397.7 L1719.0,395.9 L1722.0,394.2 L1725.0,392.5 L1728.0,390.7 L1731.0,389.0 L1734.0,387.2 L1737.0,385.4 L1740.0,383.7 L1743.0,381.9 L1746.0,380.1 L1749.0,378.4 L1752.0,376.6 L1755.0,374.8 L1758.0,373.0 L1761.0,371.2 L1764.0,369.4 L1767.0,367.6 L1770.0,365.8 L1773.0,364.0 L1776.0,362.2 L1779.0,360.4 L1782.0,358.6 L1785.0,356.8 L1788.0,355.0 L1791.0,353.2 L1794.0,351.4 L1797.0,349.6 L1800.0,347.7 L1803.0,345.9 L1806.0,344.1 L1809.0,342.3 L1812.0,340.5 L1815.0,338.6 L1818.0,336.8 L1821.0,335.0 L1824.0,333.2 L1827.0,331.3 L1830.0,329.5 L1833.0,327.7 L1836.0,325.9 L1839.0,324.0 L1842.0,322.2 L1845.0,320.4 L1848.0,318.6 L1851.0,316.7 L1854.0,314.9 L1857.0,313.1 L1860.0,311.3 L1863.0,309.5 L1866.0,307.7 L1869.0,305.8 L1872.0,304.0 L1875.0,302.2 L1878.0,300.4 L1881.0,298.6 L1884.0,296.8 L1887.0,295.0 L1890.0,293.2 L1893.0,291.4 L1896.0,289.6 L1899.0,287.8 L1902.0,286.0 L1905.0,284.2 L1908.0,282.4 L1911.0,280.6 L1914.0,278.9 L1917.0,277.1 L1920.0,275.3 L1923.0,273.5 L1926.0,271.8 L1929.0,270.0 L1932.0,268.3 L1935.0,266.5 L1938.0,264.8 L1941.0,263.0 L1944.0,261.3 L1947.0,259.6 L1950.0,257.8 L1953.0,256.1 L1956.0,254.4 L1959.0,252.7 L1962.0,251.0 L1965.0,249.3 L1968.0,247.6 L1971.0,245.9 L1974.0,244.2 L1977.0,242.5 L1980.0,240.9 L1983.0,239.2 L1986.0,237.5 L1989.0,235.9 L1992.0,234.2 L1995.0,232.6 L1998.0,231.0 L2001.0,229.3 L2004.0,227.7 L2007.0,226.1 L2010.0,224.5 L2013.0,222.9 L2016.0,221.3 L2019.0,219.7 L2022.0,218.2 L2025.0,216.6 L2028.0,215.1 L2031.0,213.5 L2034.0,212.0 L2037.0,210.4 L2040.0,208.9 L2043.0,207.4 L2046.0,205.9 L2049.0,204.4 L2052.0,202.9 L2055.0,201.4 L2058.0,200.0 L2061.0,198.5 L2064.0,197.1 L2067.0,195.6 L2070.0,194.2 L2073.0,192.8 L2076.0,191.4 L2079.0,190.0 L2082.0,188.6 L2085.0,187.2 L2088.0,185.9 L2091.0,184.5 L2094.0,183.2 L2097.0,181.8 L2100.0,180.5 L2103.0,179.2 L2106.0,177.9 L2109.0,176.6 L2109.5,176.4" fill="none" stroke="#0000c8" stroke-width="6" stroke-linejoin="round" stroke-linecap="round"/>
<text x="292.57" y="152.60" font-family='"Liberation Serif", "Times New Roman", serif' font-weight="bold" font-size="42.29" textLength="284.28" lengthAdjust="spacing" fill="#00b864" >Mass Change:</text>
<text x="732.17" y="362.60" font-family='"Liberation Serif", "Times New Roman", serif' font-weight="bold" font-size="42.29" textLength="285.08" lengthAdjust="spacing" fill="#00b864" >Mass Change:</text>
<text x="1052.37" y="632.90" font-family='"Liberation Serif", "Times New Roman", serif' font-weight="bold" font-size="42.29" textLength="285.08" lengthAdjust="spacing" fill="#00b864" >Mass Change:</text>
<text x="1449.47" y="714.40" font-family='"Liberation Serif", "Times New Roman", serif' font-weight="bold" font-size="42.29" textLength="285.18" lengthAdjust="spacing" fill="#00b864" >Mass Change:</text>
<text x="1658.37" y="838.00" font-family='"Liberation Serif", "Times New Roman", serif' font-weight="bold" font-size="42.29" textLength="284.28" lengthAdjust="spacing" fill="#00b864" >Mass Change:</text>
<text x="983.17" y="1058.20" font-family='"Liberation Serif", "Times New Roman", serif' font-weight="bold" font-size="42.29" textLength="284.48" lengthAdjust="spacing" fill="#00b864" >Mass Change:</text>
<text x="585.50" y="163.00" font-family='"Liberation Sans", Arial, sans-serif' font-weight="normal" font-size="39.42" textLength="124.74" lengthAdjust="spacingAndGlyphs" fill="#2f8a55" >0.38 %</text>
<text x="1031.17" y="375.50" font-family='"Liberation Sans", Arial, sans-serif' font-weight="normal" font-size="41.30" textLength="140.31" lengthAdjust="spacingAndGlyphs" fill="#2f8a55" >-3.42 %</text>
<text x="1351.27" y="639.30" font-family='"Liberation Sans", Arial, sans-serif' font-weight="normal" font-size="41.16" textLength="140.41" lengthAdjust="spacingAndGlyphs" fill="#2f8a55" >-0.37 %</text>
<text x="1745.61" y="717.70" font-family='"Liberation Sans", Arial, sans-serif' font-weight="normal" font-size="41.16" textLength="141.64" lengthAdjust="spacingAndGlyphs" fill="#2f8a55" >-1.11 %</text>
<text x="1948.78" y="841.90" font-family='"Liberation Sans", Arial, sans-serif' font-weight="normal" font-size="41.16" textLength="139.08" lengthAdjust="spacingAndGlyphs" fill="#2f8a55" >-1.00 %</text>
<text x="1273.78" y="1060.80" font-family='"Liberation Sans", Arial, sans-serif' font-weight="normal" font-size="41.30" textLength="139.08" lengthAdjust="spacingAndGlyphs" fill="#2f8a55" >-0.61 %</text>
<text x="649.55" y="1138.90" font-family='"Liberation Serif", "Times New Roman", serif' font-weight="normal" font-size="57.25" textLength="357.21" lengthAdjust="spacingAndGlyphs" fill="#00b060" >Residual Mass:</text>
<text x="1022.82" y="1141.00" font-family='"Liberation Sans", Arial, sans-serif' font-weight="normal" font-size="41.30" textLength="336.58" lengthAdjust="spacingAndGlyphs" fill="#2f8a55" >93.63 % (999.1 °C)</text>
<text x="1182.92" y="151.70" font-family='"Liberation Serif", "Times New Roman", serif' font-weight="bold" font-size="45.34" textLength="116.01" lengthAdjust="spacing" fill="#5a5ee0" >Peak:</text>
<text x="1304.91" y="155.60" font-family='"Liberation Sans", Arial, sans-serif' font-weight="normal" font-size="43.04" textLength="320.69" lengthAdjust="spacingAndGlyphs" fill="#3c3c8c" >551.3 °C, 0.78957</text>
<text x="1634.82" y="151.80" font-family='"Liberation Serif", "Times New Roman", serif' font-weight="normal" font-size="38.47" textLength="131.66" lengthAdjust="spacingAndGlyphs" fill="#5c50e0" >µV/mg</text>
<text x="1333.02" y="261.70" font-family='"Liberation Serif", "Times New Roman", serif' font-weight="bold" font-size="45.34" textLength="117.21" lengthAdjust="spacing" fill="#5a5ee0" >Peak:</text>
<text x="1454.63" y="268.80" font-family='"Liberation Sans", Arial, sans-serif' font-weight="normal" font-size="43.19" textLength="318.47" lengthAdjust="spacingAndGlyphs" fill="#3c3c8c" >648.2 °C, 0.65314</text>
<text x="1782.33" y="250.00" font-family='"Liberation Serif", "Times New Roman", serif' font-weight="normal" font-size="43.36" textLength="130.34" lengthAdjust="spacingAndGlyphs" fill="#5c50e0" >µV/mg</text>
<text x="470.16" y="971.00" font-family='"Liberation Serif", "Times New Roman", serif' font-weight="bold" font-size="42.60" textLength="114.43" lengthAdjust="spacing" fill="#5a5ee0" >Peak:</text>
<text x="591.23" y="975.80" font-family='"Liberation Sans", Arial, sans-serif' font-weight="normal" font-size="42.90" textLength="331.18" lengthAdjust="spacingAndGlyphs" fill="#3c3c8c" >98.5 °C, -0.014137</text>
<text x="929.32" y="970.50" font-family='"Liberation Serif", "Times New Roman", serif' font-weight="normal" font-size="43.05" textLength="131.56" lengthAdjust="spacingAndGlyphs" fill="#5c50e0" >µV/mg</text>
<text x="2064.47" y="166.00" font-family='"Liberation Sans", Arial, sans-serif' font-weight="normal" font-size="33.33" textLength="40.12" lengthAdjust="spacingAndGlyphs" fill="#8888a8" >[1]</text>
<text x="2065.08" y="1123.00" font-family='"Liberation Sans", Arial, sans-serif' font-weight="normal" font-size="30.43" textLength="38.40" lengthAdjust="spacingAndGlyphs" fill="#90c0a0" >[1]</text>
<rect x="192.3" y="1148" width="7.4" height="39" fill="#a4a4a4"/>
<polygon points="184.5,1154.5 196,1145 207,1154.5" fill="#b4b4b4"/>
<rect x="192.3" y="1144.2" width="7.4" height="7" fill="#3a3a3a"/>

<text x="218.82" y="1174.7" font-family='"Liberation Serif", "Times New Roman", serif' font-size="50.43" textLength="85.79" lengthAdjust="spacingAndGlyphs" fill="#111">exo</text>
</svg></body></html>
